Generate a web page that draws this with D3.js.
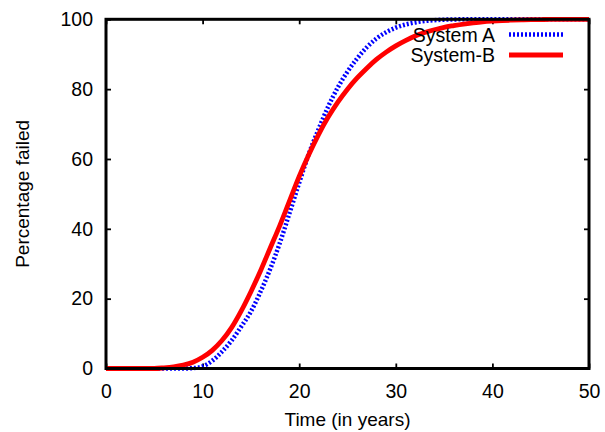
<!DOCTYPE html>
<html>
<head>
<meta charset="utf-8">
<script src="https://cdn.jsdelivr.net/npm/d3@7"></script>
<style>
  body { margin: 0; background: #fff; }
  svg text { font-family: "Liberation Sans", Arial, sans-serif; fill: #000; }
</style>
</head>
<body>
<div id="chart"></div>
<script>
// years (x) and percentage failed for each system
var years = [0, 1, 2, 3, 4, 5, 6, 7, 8, 9, 10, 11, 12, 13, 14, 15, 16, 17, 18, 19, 20,
             21, 22, 23, 24, 25, 26, 27, 28, 29, 30, 31, 32, 33, 34, 35, 36, 37, 38, 39, 40,
             41, 42, 43, 44, 45, 46, 47, 48, 49, 50];
var systemA = [0, 0, 0, 0, 0, 0, 0, 0, 0, 0.1, 0.6, 2.2, 4.8, 8, 12, 16.3, 22, 28.5, 36, 44.5, 53.2,
               61.5, 68.5, 75, 80.5, 85, 88.8, 92, 94.5, 96.3, 97.6, 98.5, 99.1, 99.5, 99.75, 99.9, 99.95, 100, 100, 100, 100,
               100, 100, 100, 100, 100, 100, 100, 100, 100, 100];
var systemB = [0, 0, 0, 0, 0, 0, 0.2, 0.5, 1.0, 1.8, 3.2, 5.2, 8, 11.7, 16.5, 22, 28, 34.5, 41, 48, 55,
               61.3, 67, 72, 76.3, 80, 83.2, 86, 88.5, 90.6, 92.4, 93.9, 95.2, 96.2, 97, 97.7, 98.2, 98.65, 99, 99.3, 99.5,
               99.65, 99.75, 99.83, 99.9, 99.93, 99.96, 99.98, 99.99, 100, 100];
var xTicks = [0, 10, 20, 30, 40, 50];
var yTicks = [0, 20, 40, 60, 80, 100];

var margin = {top: 19.3, right: 16, bottom: 63.5, left: 106};
var W = 605, H = 432;
var width = W - margin.left - margin.right;
var height = H - margin.top - margin.bottom;

var svg = d3.select("#chart").append("svg")
    .attr("width", W)
    .attr("height", H);

var g = svg.append("g")
    .attr("transform", "translate(" + margin.left + "," + margin.top + ")");

var x = d3.scaleLinear().domain([0, 50]).range([0, width]);
var y = d3.scaleLinear().domain([0, 100]).range([height, 0]);

// axes with inward ticks, mirrored on top/right
var tickLen = 5;
g.append("g").attr("transform", "translate(0," + height + ")")
  .call(d3.axisBottom(x).tickValues(xTicks).tickSize(-tickLen).tickPadding(16));
g.append("g")
  .call(d3.axisLeft(y).tickValues(yTicks).tickSize(-tickLen).tickPadding(13));
g.append("g")
  .call(d3.axisTop(x).tickValues(xTicks).tickSize(-tickLen).tickFormat(""));
g.append("g").attr("transform", "translate(" + width + ",0)")
  .call(d3.axisRight(y).tickValues(yTicks).tickSize(-tickLen).tickFormat(""));

g.selectAll(".domain").remove();
g.selectAll(".tick line").attr("stroke", "#000").attr("stroke-width", 1.8);
g.selectAll(".tick text").style("font-size", "19.5px").attr("fill", "#000");

var line = function(vals) {
  return d3.line()
    .x(function(d, i) { return x(years[i]); })
    .y(function(d) { return y(d); })
    .curve(d3.curveMonotoneX)(vals);
};

g.append("path")
  .attr("d", line(systemA))
  .attr("fill", "none")
  .attr("stroke", "#0000ff")
  .attr("stroke-width", 4.5)
  .attr("stroke-dasharray", "2,2");

g.append("path")
  .attr("d", line(systemB))
  .attr("fill", "none")
  .attr("stroke", "#ff0000")
  .attr("stroke-width", 4.8);

// border
g.append("rect")
  .attr("width", width)
  .attr("height", height)
  .attr("fill", "none")
  .attr("stroke", "#000")
  .attr("stroke-width", 3);

// legend
var legend = [{name: "System A", color: "#0000ff", dash: "2,2", w: 4.5},
              {name: "System-B", color: "#ff0000", dash: null, w: 4.8}];
var lg = svg.append("g");
legend.forEach(function(d, i) {
  var cy = 34.5 + i * 20.5;
  lg.append("text")
    .attr("x", 495)
    .attr("y", cy + 7)
    .attr("text-anchor", "end")
    .style("font-size", "19.5px")
    .text(d.name);
  lg.append("line")
    .attr("x1", 509).attr("x2", 563)
    .attr("y1", cy).attr("y2", cy)
    .attr("stroke", d.color)
    .attr("stroke-width", d.w)
    .attr("stroke-dasharray", d.dash);
});

// axis titles
svg.append("text")
  .attr("x", margin.left + width / 2)
  .attr("y", 426)
  .attr("text-anchor", "middle")
  .style("font-size", "19px")
  .text("Time (in years)");

svg.append("text")
  .attr("transform", "translate(29," + (margin.top + height / 2) + ") rotate(-90)")
  .attr("text-anchor", "middle")
  .style("font-size", "19px")
  .text("Percentage failed");
</script>
</body>
</html>
